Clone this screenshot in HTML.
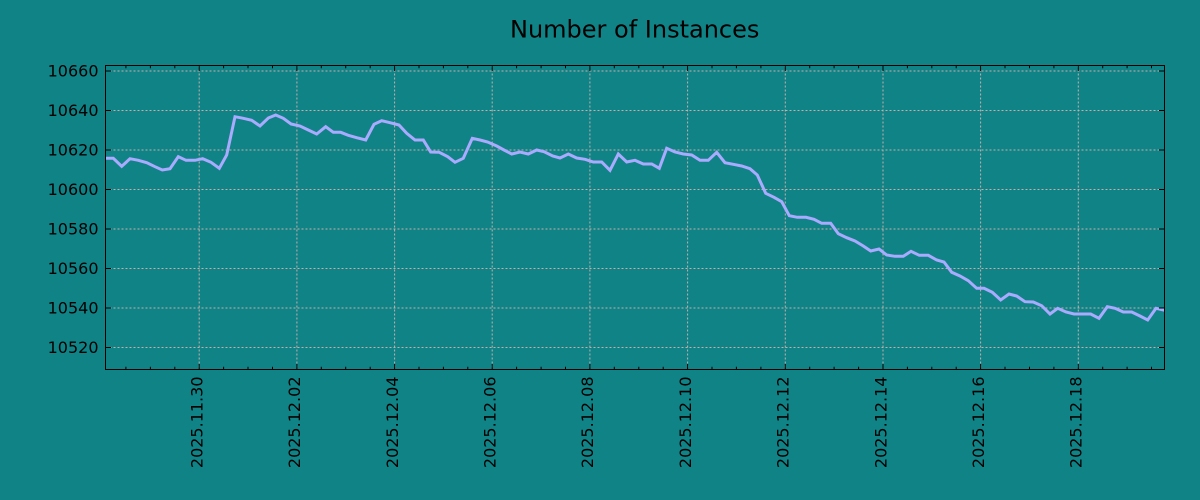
<!DOCTYPE html>
<html>
<head>
<meta charset="utf-8">
<style>
html,body{margin:0;padding:0;background:#108387;}
svg{display:block;}
text{font-family:"DejaVu Sans","Liberation Sans",sans-serif;fill:#000;}
</style>
</head>
<body>
<svg width="1200" height="500" viewBox="0 0 1200 500" xmlns="http://www.w3.org/2000/svg">
<rect x="0" y="0" width="1200" height="500" fill="#108387"/>
<defs>
<clipPath id="ax"><rect x="105.5" y="65.5" width="1059" height="304"/></clipPath>
</defs>
<text x="634.7" y="37.5" font-size="24" text-anchor="middle">Number of Instances</text>

<!-- grid -->
<g stroke="#c4b0a8" stroke-width="1" stroke-dasharray="2,2" fill="none">
<line x1="105.5" x2="1164.5" y1="71" y2="71"/>
<line x1="105.5" x2="1164.5" y1="110.5" y2="110.5"/>
<line x1="105.5" x2="1164.5" y1="150" y2="150"/>
<line x1="105.5" x2="1164.5" y1="189.5" y2="189.5"/>
<line x1="105.5" x2="1164.5" y1="229" y2="229"/>
<line x1="105.5" x2="1164.5" y1="268.5" y2="268.5"/>
<line x1="105.5" x2="1164.5" y1="308" y2="308"/>
<line x1="105.5" x2="1164.5" y1="347.5" y2="347.5"/>
<line y1="65.5" y2="369.5" x1="199.2" x2="199.2"/>
<line y1="65.5" y2="369.5" x1="296.9" x2="296.9"/>
<line y1="65.5" y2="369.5" x1="394.6" x2="394.6"/>
<line y1="65.5" y2="369.5" x1="492.2" x2="492.2"/>
<line y1="65.5" y2="369.5" x1="589.9" x2="589.9"/>
<line y1="65.5" y2="369.5" x1="687.6" x2="687.6"/>
<line y1="65.5" y2="369.5" x1="785.3" x2="785.3"/>
<line y1="65.5" y2="369.5" x1="883.0" x2="883.0"/>
<line y1="65.5" y2="369.5" x1="980.6" x2="980.6"/>
<line y1="65.5" y2="369.5" x1="1078.3" x2="1078.3"/>
</g>

<!-- series -->
<g clip-path="url(#ax)">
<polyline fill="none" stroke="#aaaaff" stroke-width="3" stroke-linejoin="miter" points="104,158.3 113.3,158.3 121.7,166.3 130,158.7 138.3,160.3 146.7,162.7 155,166.7 162.3,170 170,168.7 178.3,156.7 186,160.3 195,160.3 202.7,158.7 211,162.3 219.3,168.3 226.7,155 235,116.7 243.3,118.3 251.7,120.3 260,126 268.3,118 275.7,115 283.3,118.3 291,124 300,126 308.3,130 316.7,134 325.7,126.7 333.3,132.3 340.7,132.3 348.3,135.3 356.7,137.7 365.7,140 374,124.3 381.7,120.7 390,122.7 399,125 406.7,133.3 415,140 423.3,140 430.7,152 439.3,152.3 447.7,156.7 455,162.3 463.3,158.3 472.3,138.3 480,140 487.7,142 496.7,146 504,150 511.7,154 520,152 528.3,154 536.7,150 544,151.7 552.7,156 560,158 568.3,154 576.7,158 585,159.3 593.3,162 601.7,162 610,170.3 618.3,154 626.7,162 635,160.3 643.3,164 651.7,164 659.3,168.3 666.7,148.3 675,152 683.3,154 691.7,155 700,160.3 708.3,160.3 716.7,152.3 725,162.7 733.3,164.3 741.7,166 750,168.7 757.3,175 765.7,193.3 774,197.3 781.7,201.7 789.3,215.7 797.3,217.3 806,217.3 814,219.3 821.7,223.3 830.7,223.3 838.3,233.7 846.7,237.7 855,241 863.3,246 870.7,251 879,249 886.7,255 895,256.3 903.3,256.3 911,251.3 919.3,255.3 928.3,255.3 936.7,260 944,262 951.7,272.3 960,276 968.3,280.7 976.7,288.3 984,288.3 992.3,292.3 1000.7,300 1009,294 1016.7,296 1025,301.7 1033.3,302 1041.7,305.7 1050,314 1057.7,308.3 1066,312 1074,314 1082.7,314 1090.7,314 1099,318.3 1107.3,306.7 1115,308.3 1123.3,312 1131.7,312 1140,316 1147.7,320 1156,308.3 1165,310.3"/>
</g>

<!-- spines -->
<rect x="105.5" y="65.5" width="1059" height="304" fill="none" stroke="#000" stroke-width="1"/>

<!-- ticks -->
<g stroke="#000" stroke-width="1">
<!-- y major left/right -->
<line x1="105.5" x2="111" y1="71" y2="71"/><line x1="1164.5" x2="1159" y1="71" y2="71"/>
<line x1="105.5" x2="111" y1="110.5" y2="110.5"/><line x1="1164.5" x2="1159" y1="110.5" y2="110.5"/>
<line x1="105.5" x2="111" y1="150" y2="150"/><line x1="1164.5" x2="1159" y1="150" y2="150"/>
<line x1="105.5" x2="111" y1="189.5" y2="189.5"/><line x1="1164.5" x2="1159" y1="189.5" y2="189.5"/>
<line x1="105.5" x2="111" y1="229" y2="229"/><line x1="1164.5" x2="1159" y1="229" y2="229"/>
<line x1="105.5" x2="111" y1="268.5" y2="268.5"/><line x1="1164.5" x2="1159" y1="268.5" y2="268.5"/>
<line x1="105.5" x2="111" y1="308" y2="308"/><line x1="1164.5" x2="1159" y1="308" y2="308"/>
<line x1="105.5" x2="111" y1="347.5" y2="347.5"/><line x1="1164.5" x2="1159" y1="347.5" y2="347.5"/>
<!-- x major bottom/top -->
<line x1="199.2" x2="199.2" y1="369.5" y2="364"/><line x1="199.2" x2="199.2" y1="65.5" y2="71"/>
<line x1="296.9" x2="296.9" y1="369.5" y2="364"/><line x1="296.9" x2="296.9" y1="65.5" y2="71"/>
<line x1="394.6" x2="394.6" y1="369.5" y2="364"/><line x1="394.6" x2="394.6" y1="65.5" y2="71"/>
<line x1="492.2" x2="492.2" y1="369.5" y2="364"/><line x1="492.2" x2="492.2" y1="65.5" y2="71"/>
<line x1="589.9" x2="589.9" y1="369.5" y2="364"/><line x1="589.9" x2="589.9" y1="65.5" y2="71"/>
<line x1="687.6" x2="687.6" y1="369.5" y2="364"/><line x1="687.6" x2="687.6" y1="65.5" y2="71"/>
<line x1="785.3" x2="785.3" y1="369.5" y2="364"/><line x1="785.3" x2="785.3" y1="65.5" y2="71"/>
<line x1="883.0" x2="883.0" y1="369.5" y2="364"/><line x1="883.0" x2="883.0" y1="65.5" y2="71"/>
<line x1="980.6" x2="980.6" y1="369.5" y2="364"/><line x1="980.6" x2="980.6" y1="65.5" y2="71"/>
<line x1="1078.3" x2="1078.3" y1="369.5" y2="364"/><line x1="1078.3" x2="1078.3" y1="65.5" y2="71"/>
</g>
<g stroke="#000" stroke-width="1">
<!-- x minor -->
<path d="M125.9 369.5v-2.8M150.4 369.5v-2.8M174.8 369.5v-2.8M223.6 369.5v-2.8M248.0 369.5v-2.8M272.5 369.5v-2.8M321.3 369.5v-2.8M345.7 369.5v-2.8M370.2 369.5v-2.8M419.0 369.5v-2.8M443.4 369.5v-2.8M467.8 369.5v-2.8M516.6 369.5v-2.8M541.1 369.5v-2.8M565.5 369.5v-2.8M614.3 369.5v-2.8M638.8 369.5v-2.8M663.2 369.5v-2.8M712.0 369.5v-2.8M736.4 369.5v-2.8M760.9 369.5v-2.8M809.7 369.5v-2.8M834.1 369.5v-2.8M858.6 369.5v-2.8M907.4 369.5v-2.8M931.8 369.5v-2.8M956.2 369.5v-2.8M1005.0 369.5v-2.8M1029.5 369.5v-2.8M1053.9 369.5v-2.8M1102.7 369.5v-2.8M1127.1 369.5v-2.8M1151.5 369.5v-2.8"/>
<path d="M125.9 65.5v2.8M150.4 65.5v2.8M174.8 65.5v2.8M223.6 65.5v2.8M248.0 65.5v2.8M272.5 65.5v2.8M321.3 65.5v2.8M345.7 65.5v2.8M370.2 65.5v2.8M419.0 65.5v2.8M443.4 65.5v2.8M467.8 65.5v2.8M516.6 65.5v2.8M541.1 65.5v2.8M565.5 65.5v2.8M614.3 65.5v2.8M638.8 65.5v2.8M663.2 65.5v2.8M712.0 65.5v2.8M736.4 65.5v2.8M760.9 65.5v2.8M809.7 65.5v2.8M834.1 65.5v2.8M858.6 65.5v2.8M907.4 65.5v2.8M931.8 65.5v2.8M956.2 65.5v2.8M1005.0 65.5v2.8M1029.5 65.5v2.8M1053.9 65.5v2.8M1102.7 65.5v2.8M1127.1 65.5v2.8M1151.5 65.5v2.8"/>
</g>

<!-- y labels -->
<g font-size="16" text-anchor="end">
<text x="98.5" y="76.5">10660</text>
<text x="98.5" y="116">10640</text>
<text x="98.5" y="155.5">10620</text>
<text x="98.5" y="195">10600</text>
<text x="98.5" y="234.5">10580</text>
<text x="98.5" y="274">10560</text>
<text x="98.5" y="313.5">10540</text>
<text x="98.5" y="353">10520</text>
</g>

<!-- x labels -->
<g font-size="16" text-anchor="end">
<text transform="translate(202.5,376.5) rotate(-90)">2025.11.30</text>
<text transform="translate(300.2,376.5) rotate(-90)">2025.12.02</text>
<text transform="translate(397.9,376.5) rotate(-90)">2025.12.04</text>
<text transform="translate(495.5,376.5) rotate(-90)">2025.12.06</text>
<text transform="translate(593.2,376.5) rotate(-90)">2025.12.08</text>
<text transform="translate(690.9,376.5) rotate(-90)">2025.12.10</text>
<text transform="translate(788.6,376.5) rotate(-90)">2025.12.12</text>
<text transform="translate(886.3,376.5) rotate(-90)">2025.12.14</text>
<text transform="translate(983.9,376.5) rotate(-90)">2025.12.16</text>
<text transform="translate(1081.6,376.5) rotate(-90)">2025.12.18</text>
</g>
</svg>
</body>
</html>
